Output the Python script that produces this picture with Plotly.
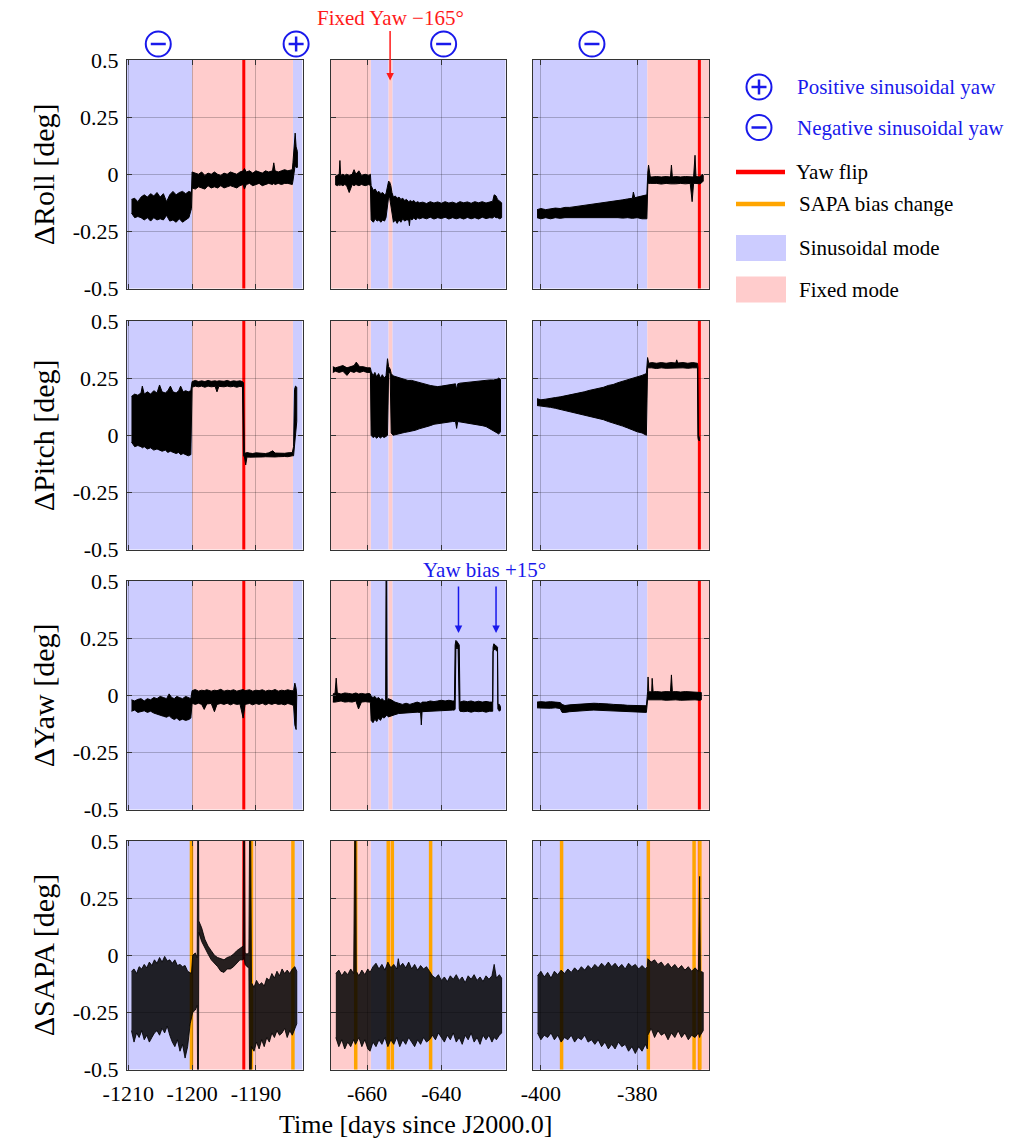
import plotly.graph_objects as go
from plotly.subplots import make_subplots

W, H = 1028, 1138
FONT = "Liberation Serif"
BLUE_TXT = "rgb(25,25,235)"
SIN_FILL = "#ccccff"
FIX_FILL = "#ffcccc"
RED = "#ff0000"
ORANGE = "#ffa500"

# ---------------- axes / categories ----------------
col_ranges = [[-1210.2, -1182.7], [-669.7, -622.7], [-401.7, -365.1]]
col_tickvals = [[-1210, -1200, -1190], [-660, -640], [-400, -380]]
col_ticktext = [["-1210", "-1200", "-1190"], ["-660", "-640"], ["-400", "-380"]]
y_tickvals = [0.5, 0.25, 0, -0.25, -0.5]
y_ticktext = ["0.5", "0.25", "0", "-0.25", "-0.5"]
row_titles = ["ΔRoll [deg]", "ΔPitch [deg]", "ΔYaw [deg]", "ΔSAPA [deg]"]
x_title = "Time [days since J2000.0]"

# ---------------- mode intervals / events ----------------
sin_intervals = [[(-1210.2, -1200.0), (-1184.2, -1182.7)],
                 [(-659.0, -654.2), (-653.2, -622.7)],
                 [(-401.7, -377.9)]]
fixed_intervals = [[(-1200.0, -1184.2)],
                   [(-669.7, -659.0), (-654.2, -653.2)],
                   [(-377.9, -365.1)]]
yaw_flip_times = [[-1191.9], [], [-367.1]]
sapa_bias_times = [[-1200.1, -1190.7, -1184.2],
                   [-663.05, -654.3, -653.2, -642.9],
                   [-395.7, -377.7, -368.2, -367.0]]
mode_sign_col = [0, 0, 1, 2]
mode_sign_time = [-1205.3, -1183.7, -639.4, -389.4]
mode_sign_kind = ["-", "+", "-", "-"]
yaw_bias_arrow_times = [-635.4, -625.3]

# ---------------- data: (time, upper envelope, lower envelope) ----------------
roll_c1 = [
    (-1209.5, -0.11, -0.17), (-1209.0, -0.105, -0.19), (-1208.5, -0.12, -0.185),
    (-1208.0, -0.10, -0.19), (-1207.5, -0.09, -0.20), (-1207.0, -0.10, -0.19),
    (-1206.5, -0.085, -0.205), (-1206.0, -0.095, -0.19), (-1205.5, -0.08, -0.20),
    (-1205.0, -0.10, -0.195), (-1204.5, -0.085, -0.20), (-1204.0, -0.12, -0.18),
    (-1203.5, -0.09, -0.205), (-1203.0, -0.075, -0.20), (-1202.5, -0.09, -0.21),
    (-1202.0, -0.08, -0.195), (-1201.5, -0.075, -0.21), (-1201.0, -0.085, -0.20),
    (-1200.5, -0.075, -0.19), (-1200.1, -0.08, -0.15),
    (-1200.0, 0.01, -0.06), (-1199.5, 0.005, -0.065), (-1199.0, 0.0, -0.055),
    (-1198.5, 0.01, -0.06), (-1198.0, -0.005, -0.065), (-1197.5, 0.005, -0.05),
    (-1197.0, 0.0, -0.06), (-1196.5, 0.01, -0.055), (-1196.0, 0.0, -0.06),
    (-1195.5, -0.005, -0.05), (-1195.0, 0.005, -0.06), (-1194.5, 0.0, -0.055),
    (-1194.0, 0.01, -0.05), (-1193.5, 0.005, -0.055), (-1193.0, 0.0, -0.06),
    (-1192.5, 0.01, -0.05), (-1192.0, 0.015, -0.045), (-1191.8, 0.025, -0.065),
    (-1191.5, 0.01, -0.045), (-1191.0, 0.015, -0.04), (-1190.5, 0.005, -0.05),
    (-1190.0, 0.015, -0.045), (-1189.5, 0.01, -0.04), (-1189.0, 0.005, -0.05),
    (-1188.5, 0.015, -0.045), (-1188.0, 0.01, -0.04), (-1187.4, 0.015, -0.045),
    (-1187.2, 0.05, -0.04), (-1187.0, 0.015, -0.045), (-1186.5, 0.01, -0.04),
    (-1186.0, 0.015, -0.045), (-1185.5, 0.02, -0.04), (-1185.0, 0.015, -0.04),
    (-1184.3, 0.02, -0.045), (-1184.2, 0.05, -0.03), (-1184.0, 0.12, 0.0),
    (-1183.85, 0.18, 0.04), (-1183.7, 0.12, 0.03), (-1183.5, 0.10, 0.03),
]
roll_c2 = [
    (-668.6, -0.01, -0.045), (-668.0, -0.005, -0.05), (-667.5, 0.0, -0.045),
    (-667.3, 0.06, -0.05), (-667.1, -0.005, -0.045), (-666.5, 0.0, -0.05),
    (-666.0, -0.005, -0.045), (-665.5, 0.0, -0.05), (-664.8, -0.005, -0.08),
    (-664.0, 0.0, -0.045), (-663.5, 0.02, -0.05), (-663.0, 0.0, -0.045),
    (-662.2, 0.015, -0.05), (-661.5, -0.005, -0.045), (-660.5, 0.0, -0.05),
    (-659.5, -0.005, -0.045), (-659.1, 0.0, -0.05),
    (-658.9, -0.05, -0.20), (-658.3, -0.07, -0.21), (-657.8, -0.065, -0.195),
    (-657.3, -0.08, -0.205), (-656.8, -0.075, -0.20), (-656.3, -0.085, -0.21),
    (-655.8, -0.08, -0.20), (-655.3, -0.09, -0.205), (-654.9, -0.085, -0.19),
    (-654.5, -0.05, -0.13), (-654.2, -0.03, -0.10), (-653.9, -0.035, -0.105),
    (-653.6, -0.05, -0.12), (-653.3, -0.08, -0.16), (-652.9, -0.10, -0.21),
    (-652.4, -0.095, -0.20), (-651.9, -0.105, -0.215), (-651.4, -0.10, -0.20),
    (-650.9, -0.11, -0.21), (-650.4, -0.105, -0.195), (-649.9, -0.115, -0.205),
    (-649.4, -0.11, -0.20), (-648.8, -0.12, -0.20), (-648.6, -0.118, -0.225),
    (-648.4, -0.115, -0.195), (-647.9, -0.12, -0.20), (-647.4, -0.115, -0.19),
    (-646.9, -0.125, -0.20), (-646.4, -0.12, -0.19), (-645.9, -0.125, -0.195),
    (-645.0, -0.122, -0.19), (-644.0, -0.128, -0.195), (-643.0, -0.12, -0.188),
    (-642.0, -0.126, -0.196), (-641.0, -0.121, -0.19), (-640.0, -0.127, -0.194),
    (-639.0, -0.12, -0.188), (-638.0, -0.126, -0.196), (-637.0, -0.122, -0.19),
    (-636.0, -0.128, -0.195), (-635.0, -0.12, -0.19), (-634.0, -0.125, -0.196),
    (-633.0, -0.121, -0.189), (-632.0, -0.127, -0.195), (-631.0, -0.12, -0.19),
    (-630.0, -0.125, -0.196), (-629.0, -0.12, -0.188), (-628.0, -0.126, -0.194),
    (-627.0, -0.12, -0.19), (-626.2, -0.118, -0.192), (-625.8, -0.09, -0.185),
    (-625.3, -0.095, -0.19), (-624.9, -0.11, -0.19), (-624.3, -0.12, -0.195),
    (-623.8, -0.125, -0.19),
]
roll_c3 = [
    (-400.8, -0.155, -0.19), (-400.0, -0.15, -0.195), (-399.0, -0.155, -0.19),
    (-398.0, -0.15, -0.195), (-397.0, -0.148, -0.19), (-396.0, -0.15, -0.193),
    (-395.0, -0.145, -0.19), (-394.0, -0.145, -0.188), (-393.0, -0.142, -0.19),
    (-392.0, -0.14, -0.188), (-391.0, -0.138, -0.19), (-390.0, -0.135, -0.187),
    (-389.0, -0.133, -0.19), (-388.0, -0.13, -0.187), (-387.0, -0.127, -0.19),
    (-386.0, -0.123, -0.188), (-385.0, -0.12, -0.19), (-384.0, -0.115, -0.19),
    (-383.0, -0.112, -0.192), (-382.0, -0.108, -0.19), (-381.0, -0.105, -0.193),
    (-380.8, -0.078, -0.19), (-380.5, -0.103, -0.192), (-380.0, -0.10, -0.19),
    (-379.0, -0.095, -0.195), (-378.0, -0.09, -0.195),
    (-377.8, 0.01, -0.04), (-377.65, 0.04, -0.04), (-377.3, -0.01, -0.04),
    (-377.0, -0.012, -0.042), (-376.0, -0.01, -0.04), (-375.0, -0.012, -0.043),
    (-374.0, -0.01, -0.04), (-373.1, -0.012, -0.042), (-372.9, 0.04, -0.042),
    (-372.7, -0.012, -0.04), (-372.0, -0.01, -0.042), (-371.0, -0.012, -0.04),
    (-370.0, -0.01, -0.042), (-369.0, -0.012, -0.04), (-368.6, -0.012, -0.12),
    (-368.3, -0.012, -0.04), (-368.0, 0.083, -0.04), (-367.8, -0.01, -0.04),
    (-367.0, -0.012, -0.042), (-366.5, 0.0, -0.035), (-366.3, -0.005, -0.03),
]
pitch_c1 = [
    (-1209.5, 0.17, -0.03), (-1209.0, 0.18, -0.05), (-1208.5, 0.175, -0.045),
    (-1208.0, 0.185, -0.05), (-1207.8, 0.215, -0.055), (-1207.5, 0.18, -0.05),
    (-1207.0, 0.19, -0.06), (-1206.5, 0.18, -0.055), (-1206.0, 0.195, -0.065),
    (-1205.5, 0.185, -0.06), (-1205.1, 0.22, -0.065), (-1204.7, 0.19, -0.07),
    (-1204.2, 0.185, -0.065), (-1203.8, 0.195, -0.075), (-1203.4, 0.215, -0.07),
    (-1203.0, 0.19, -0.075), (-1202.5, 0.185, -0.08), (-1202.1, 0.195, -0.075),
    (-1201.8, 0.215, -0.085), (-1201.4, 0.19, -0.08), (-1201.0, 0.195, -0.085),
    (-1200.6, 0.19, -0.09), (-1200.2, 0.195, -0.085),
    (-1200.0, 0.235, 0.21), (-1199.5, 0.24, 0.215), (-1199.0, 0.235, 0.212),
    (-1198.5, 0.238, 0.215), (-1198.0, 0.235, 0.21), (-1197.5, 0.24, 0.215),
    (-1197.0, 0.236, 0.212), (-1196.4, 0.238, 0.214), (-1196.1, 0.236, 0.19),
    (-1195.8, 0.238, 0.214), (-1195.0, 0.236, 0.212), (-1194.5, 0.24, 0.215),
    (-1194.0, 0.235, 0.212), (-1193.5, 0.238, 0.214), (-1193.0, 0.236, 0.21),
    (-1192.5, 0.238, 0.214), (-1192.1, 0.235, 0.212), (-1191.95, 0.23, -0.09),
    (-1191.8, -0.075, -0.095), (-1191.6, -0.078, -0.13), (-1191.4, -0.076, -0.095),
    (-1191.0, -0.078, -0.096), (-1190.5, -0.08, -0.095), (-1190.0, -0.077, -0.094),
    (-1189.5, -0.079, -0.096), (-1189.0, -0.078, -0.095), (-1188.5, -0.08, -0.094),
    (-1188.0, -0.077, -0.095), (-1187.35, -0.068, -0.094), (-1187.0, -0.078, -0.095),
    (-1186.5, -0.079, -0.094), (-1186.0, -0.077, -0.095), (-1185.5, -0.079, -0.093),
    (-1185.0, -0.077, -0.094), (-1184.6, -0.078, -0.092), (-1184.3, -0.076, -0.09),
    (-1184.1, -0.05, -0.09), (-1183.95, 0.20, -0.06), (-1183.8, 0.215, 0.0),
    (-1183.6, 0.21, 0.06),
]
pitch_c2 = [
    (-669.2, 0.30, 0.275), (-668.5, 0.295, 0.28), (-667.5, 0.30, 0.275),
    (-666.5, 0.305, 0.28), (-665.4, 0.295, 0.262), (-664.5, 0.30, 0.28),
    (-663.5, 0.305, 0.275), (-662.9, 0.32, 0.28), (-662.0, 0.30, 0.275),
    (-661.0, 0.30, 0.28), (-660.0, 0.295, 0.275), (-659.1, 0.295, 0.275),
    (-658.9, 0.28, 0.0), (-658.4, 0.26, -0.01), (-657.9, 0.275, -0.005),
    (-657.4, 0.255, -0.013), (-656.9, 0.27, -0.005), (-656.4, 0.25, -0.012),
    (-655.9, 0.265, -0.005), (-655.4, 0.25, -0.01), (-654.9, 0.26, -0.005),
    (-654.5, 0.335, 0.0), (-654.2, 0.30, 0.27), (-653.8, 0.29, 0.275),
    (-653.5, 0.27, 0.01), (-653.0, 0.26, 0.0), (-652.0, 0.255, 0.005),
    (-651.0, 0.25, 0.008), (-650.0, 0.245, 0.012), (-649.0, 0.24, 0.015),
    (-648.0, 0.24, 0.02), (-647.0, 0.235, 0.022), (-646.0, 0.23, 0.028),
    (-645.0, 0.225, 0.032), (-644.0, 0.22, 0.038), (-643.0, 0.218, 0.042),
    (-642.0, 0.215, 0.048), (-641.0, 0.213, 0.05), (-640.0, 0.215, 0.053),
    (-639.0, 0.218, 0.055), (-638.0, 0.22, 0.058), (-637.0, 0.222, 0.06),
    (-636.2, 0.225, 0.06), (-635.9, 0.20, 0.03), (-635.6, 0.225, 0.06),
    (-635.0, 0.228, 0.058), (-634.0, 0.23, 0.055), (-633.0, 0.232, 0.052),
    (-632.0, 0.235, 0.05), (-631.0, 0.235, 0.048), (-630.0, 0.238, 0.045),
    (-629.0, 0.24, 0.042), (-628.0, 0.24, 0.038), (-627.0, 0.242, 0.03),
    (-626.0, 0.242, 0.02), (-625.0, 0.245, 0.01), (-624.6, 0.25, 0.005),
    (-624.1, 0.245, 0.015),
]
pitch_c3 = [
    (-400.8, 0.16, 0.13), (-400.0, 0.155, 0.13), (-399.0, 0.158, 0.125),
    (-398.0, 0.16, 0.122), (-397.0, 0.165, 0.118), (-396.0, 0.168, 0.115),
    (-395.0, 0.172, 0.11), (-394.0, 0.176, 0.106), (-393.0, 0.18, 0.10),
    (-392.0, 0.186, 0.095), (-391.0, 0.19, 0.09), (-390.0, 0.196, 0.085),
    (-389.0, 0.20, 0.08), (-388.0, 0.206, 0.073), (-387.0, 0.21, 0.068),
    (-386.0, 0.218, 0.06), (-385.0, 0.222, 0.053), (-384.0, 0.23, 0.046),
    (-383.0, 0.236, 0.04), (-382.0, 0.242, 0.032), (-381.0, 0.25, 0.025),
    (-380.0, 0.256, 0.015), (-379.0, 0.262, 0.01), (-378.1, 0.27, 0.0),
    (-377.85, 0.34, 0.295), (-377.6, 0.315, 0.293), (-377.0, 0.318, 0.295),
    (-376.0, 0.315, 0.292), (-375.0, 0.318, 0.295), (-374.0, 0.315, 0.293),
    (-373.0, 0.318, 0.295), (-372.0, 0.316, 0.294), (-371.8, 0.33, 0.294),
    (-371.6, 0.316, 0.294), (-370.5, 0.318, 0.295), (-369.5, 0.315, 0.293),
    (-368.5, 0.318, 0.295), (-367.5, 0.315, 0.295), (-367.4, 0.30, -0.01),
    (-367.3, 0.0, -0.02), (-367.1, -0.01, -0.025),
]
yaw_c1 = [
    (-1209.5, -0.02, -0.07), (-1209.0, -0.025, -0.065), (-1208.5, -0.018, -0.075),
    (-1208.0, -0.015, -0.07), (-1207.5, -0.025, -0.068), (-1207.0, -0.015, -0.075),
    (-1206.5, -0.02, -0.07), (-1206.0, -0.01, -0.078), (-1205.5, -0.015, -0.082),
    (-1205.0, -0.005, -0.088), (-1204.5, -0.01, -0.092), (-1204.0, -0.015, -0.096),
    (-1203.6, 0.006, -0.09), (-1203.2, -0.01, -0.10), (-1202.8, -0.015, -0.106),
    (-1202.4, -0.005, -0.10), (-1202.0, -0.01, -0.11), (-1201.5, -0.015, -0.105),
    (-1201.0, -0.005, -0.11), (-1200.5, -0.01, -0.106), (-1200.2, -0.015, -0.10),
    (-1200.0, 0.02, -0.035), (-1199.5, 0.025, -0.04), (-1199.0, 0.018, -0.035),
    (-1198.5, 0.022, -0.04), (-1198.1, 0.02, -0.062), (-1197.7, 0.024, -0.038),
    (-1197.0, 0.018, -0.036), (-1196.5, 0.022, -0.072), (-1196.1, 0.02, -0.04),
    (-1195.5, 0.026, -0.036), (-1195.0, 0.018, -0.04), (-1194.5, 0.022, -0.035),
    (-1194.0, 0.02, -0.042), (-1193.5, 0.024, -0.036), (-1193.0, 0.018, -0.04),
    (-1192.5, 0.022, -0.038), (-1192.0, 0.025, -0.10), (-1191.7, 0.02, -0.04),
    (-1191.0, 0.024, -0.036), (-1190.5, 0.018, -0.042), (-1190.0, 0.022, -0.036),
    (-1189.5, 0.02, -0.04), (-1189.0, 0.024, -0.035), (-1188.5, 0.018, -0.042),
    (-1188.0, 0.022, -0.036), (-1187.5, 0.02, -0.04), (-1187.0, 0.025, -0.035),
    (-1186.5, 0.018, -0.04), (-1186.0, 0.022, -0.038), (-1185.5, 0.02, -0.042),
    (-1185.0, 0.024, -0.036), (-1184.5, 0.02, -0.04), (-1184.1, 0.02, -0.045),
    (-1183.9, 0.053, -0.13), (-1183.7, 0.03, -0.15), (-1183.6, 0.0, -0.14),
]
yaw_c2 = [
    (-669.2, 0.005, -0.03), (-668.6, 0.01, -0.03), (-668.3, 0.075, -0.03),
    (-668.0, 0.01, -0.03), (-667.0, 0.005, -0.025), (-666.0, 0.01, -0.03),
    (-665.0, 0.008, -0.028), (-664.0, 0.005, -0.03), (-663.0, 0.01, -0.025),
    (-662.3, 0.005, -0.06), (-661.5, 0.008, -0.03), (-660.5, 0.005, -0.028),
    (-659.5, 0.008, -0.03), (-659.1, 0.005, -0.03),
    (-658.9, -0.005, -0.11), (-658.4, -0.01, -0.12), (-657.9, -0.005, -0.105),
    (-657.4, -0.015, -0.115), (-656.9, -0.01, -0.10), (-656.4, -0.02, -0.11),
    (-655.9, -0.015, -0.095), (-655.4, -0.025, -0.10), (-655.0, -0.02, -0.09),
    (-654.8, 1.0, -0.09), (-654.6, -0.03, -0.085), (-654.3, -0.015, -0.095),
    (-653.5, -0.02, -0.09), (-652.5, -0.03, -0.085), (-651.5, -0.035, -0.08),
    (-650.5, -0.04, -0.08), (-649.5, -0.035, -0.078), (-648.5, -0.04, -0.076),
    (-647.5, -0.035, -0.075), (-646.5, -0.03, -0.074), (-645.6, -0.035, -0.075),
    (-645.4, -0.035, -0.13), (-645.2, -0.03, -0.072), (-644.0, -0.03, -0.07),
    (-643.0, -0.025, -0.07), (-642.0, -0.028, -0.068), (-641.0, -0.025, -0.068),
    (-640.0, -0.022, -0.066), (-639.0, -0.025, -0.065), (-638.0, -0.022, -0.066),
    (-637.0, -0.025, -0.065), (-636.5, -0.025, -0.065), (-636.3, 0.22, -0.06),
    (-636.1, 0.24, 0.20), (-635.8, 0.235, 0.21), (-635.5, 0.225, 0.20),
    (-635.2, 0.22, -0.06), (-635.0, -0.03, -0.07), (-634.0, -0.025, -0.072),
    (-633.0, -0.028, -0.07), (-632.0, -0.025, -0.074), (-631.0, -0.03, -0.07),
    (-630.0, -0.026, -0.072), (-629.0, -0.03, -0.07), (-628.0, -0.027, -0.074),
    (-627.0, -0.03, -0.07), (-626.2, -0.03, -0.07), (-626.1, 0.21, 0.19),
    (-625.9, 0.225, 0.20), (-625.5, 0.22, 0.20), (-625.1, 0.215, 0.195),
    (-624.9, 0.21, 0.19), (-624.8, -0.04, -0.06), (-624.4, -0.04, -0.07),
    (-624.1, -0.05, -0.065),
]
yaw_c3 = [
    (-400.8, -0.03, -0.055), (-400.0, -0.028, -0.056), (-399.0, -0.03, -0.055),
    (-398.0, -0.028, -0.057), (-397.0, -0.03, -0.055), (-396.0, -0.032, -0.058),
    (-395.6, -0.04, -0.075), (-395.0, -0.045, -0.075), (-394.0, -0.042, -0.072),
    (-393.0, -0.04, -0.07), (-392.0, -0.04, -0.068), (-391.0, -0.038, -0.067),
    (-390.0, -0.036, -0.066), (-389.0, -0.035, -0.065), (-388.0, -0.036, -0.064),
    (-387.0, -0.036, -0.065), (-386.0, -0.038, -0.066), (-385.0, -0.04, -0.067),
    (-384.0, -0.04, -0.068), (-383.0, -0.042, -0.07), (-382.0, -0.044, -0.07),
    (-381.0, -0.045, -0.072), (-380.0, -0.046, -0.073), (-379.0, -0.047, -0.074),
    (-378.1, -0.046, -0.075),
    (-377.85, 0.015, -0.02), (-377.75, 0.08, -0.02), (-377.6, 0.015, -0.02),
    (-377.0, 0.015, -0.022), (-376.9, 0.074, -0.02), (-376.7, 0.015, -0.02),
    (-376.0, 0.016, -0.021), (-375.0, 0.014, -0.02), (-374.0, 0.016, -0.022),
    (-373.1, 0.015, -0.02), (-372.9, 0.089, -0.02), (-372.7, 0.015, -0.021),
    (-372.0, 0.016, -0.02), (-371.0, 0.014, -0.022), (-370.0, 0.016, -0.02),
    (-369.0, 0.015, -0.021), (-368.0, 0.016, -0.02), (-367.0, 0.014, -0.022),
    (-366.7, 0.012, -0.02),
]
sapa_c1 = [
    (-1209.5, -0.07, -0.33), (-1209.1, -0.06, -0.38), (-1208.7, -0.08, -0.34),
    (-1208.3, -0.05, -0.36), (-1207.9, -0.06, -0.33), (-1207.5, -0.04, -0.37),
    (-1207.1, -0.055, -0.35), (-1206.7, -0.03, -0.38), (-1206.3, -0.045, -0.36),
    (-1205.9, -0.02, -0.34), (-1205.5, -0.035, -0.33), (-1205.1, -0.01, -0.35),
    (-1204.7, -0.03, -0.32), (-1204.3, -0.005, -0.34), (-1203.9, -0.025, -0.31),
    (-1203.5, -0.02, -0.35), (-1203.1, -0.035, -0.38), (-1202.7, -0.02, -0.40),
    (-1202.3, -0.045, -0.37), (-1201.9, -0.04, -0.42), (-1201.5, -0.05, -0.39),
    (-1201.1, -0.045, -0.45), (-1200.7, -0.07, -0.40), (-1200.3, -0.075, -0.30),
    (-1200.1, -0.08, -0.28), (-1199.9, 0.0, -0.25), (-1199.5, 0.01, -0.24),
    (-1199.2, -0.01, -0.22), (-1199.05, 1.0, -1.0), (-1198.95, 0.15, 0.10),
    (-1198.5, 0.12, 0.06), (-1198.0, 0.07, 0.03), (-1197.5, 0.04, 0.005),
    (-1197.0, 0.02, -0.02), (-1196.5, 0.0, -0.035), (-1196.0, -0.01, -0.05),
    (-1195.5, -0.015, -0.07), (-1195.0, -0.02, -0.075), (-1194.5, -0.01, -0.06),
    (-1194.0, -0.005, -0.06), (-1193.5, 0.005, -0.05), (-1193.0, 0.02, -0.035),
    (-1192.5, 0.03, -0.02), (-1192.0, 0.04, -0.02), (-1191.85, 1.0, -0.01),
    (-1191.7, 0.01, -0.04), (-1191.4, 0.005, -0.05), (-1191.1, 0.01, -0.055),
    (-1190.9, 1.0, -1.0), (-1190.7, -0.12, -0.40), (-1190.3, -0.14, -0.42),
    (-1189.9, -0.11, -0.38), (-1189.5, -0.13, -0.41), (-1189.1, -0.12, -0.37),
    (-1188.7, -0.135, -0.40), (-1188.3, -0.10, -0.36), (-1187.9, -0.11, -0.38),
    (-1187.5, -0.08, -0.34), (-1187.1, -0.10, -0.36), (-1186.7, -0.07, -0.33),
    (-1186.3, -0.09, -0.35), (-1185.9, -0.06, -0.34), (-1185.5, -0.08, -0.32),
    (-1185.1, -0.065, -0.36), (-1184.7, -0.08, -0.33), (-1184.3, -0.06, -0.35),
    (-1183.9, -0.05, -0.32), (-1183.6, -0.07, -0.30),
]
sapa_c2 = [
    (-668.4, -0.08, -0.36), (-667.6, -0.065, -0.40), (-666.8, -0.09, -0.37),
    (-666.0, -0.07, -0.41), (-665.2, -0.085, -0.38), (-664.4, -0.06, -0.40),
    (-663.6, -0.08, -0.37), (-663.1, 1.0, -0.39), (-662.9, -0.07, -0.39),
    (-662.2, -0.09, -0.36), (-661.4, -0.065, -0.40), (-660.6, -0.085, -0.37),
    (-659.8, -0.06, -0.41), (-659.2, -0.075, -0.42), (-658.4, -0.05, -0.38),
    (-657.6, -0.035, -0.40), (-656.8, -0.06, -0.37), (-656.0, -0.04, -0.39),
    (-655.2, -0.065, -0.36), (-654.4, -0.03, -0.40), (-653.6, -0.055, -0.37),
    (-652.8, -0.04, -0.39), (-652.0, -0.06, -0.36), (-651.6, -0.015, -0.38),
    (-651.2, -0.05, -0.40), (-650.4, -0.035, -0.37), (-649.6, -0.055, -0.39),
    (-648.8, -0.03, -0.36), (-648.0, -0.06, -0.38), (-647.2, -0.04, -0.40),
    (-646.4, -0.065, -0.37), (-645.6, -0.045, -0.39), (-644.8, -0.06, -0.36),
    (-644.0, -0.05, -0.38), (-643.2, -0.07, -0.37), (-642.4, -0.09, -0.35),
    (-641.6, -0.10, -0.37), (-640.8, -0.085, -0.34), (-640.0, -0.11, -0.36),
    (-639.2, -0.095, -0.38), (-638.4, -0.115, -0.35), (-637.6, -0.09, -0.37),
    (-636.8, -0.105, -0.34), (-636.0, -0.085, -0.38), (-635.2, -0.11, -0.36),
    (-634.4, -0.095, -0.39), (-633.6, -0.12, -0.35), (-632.8, -0.09, -0.37),
    (-632.0, -0.105, -0.34), (-631.2, -0.085, -0.38), (-630.4, -0.11, -0.36),
    (-629.6, -0.095, -0.39), (-628.8, -0.115, -0.35), (-628.0, -0.09, -0.37),
    (-627.2, -0.105, -0.35), (-626.4, -0.09, -0.38), (-625.8, -0.04, -0.36),
    (-625.2, -0.10, -0.37), (-624.4, -0.085, -0.35), (-623.8, -0.10, -0.34),
]
sapa_c3 = [
    (-400.7, -0.09, -0.34), (-400.0, -0.07, -0.37), (-399.3, -0.095, -0.35),
    (-398.6, -0.075, -0.36), (-397.9, -0.10, -0.34), (-397.2, -0.07, -0.37),
    (-396.5, -0.085, -0.35), (-395.8, -0.065, -0.38), (-395.1, -0.08, -0.36),
    (-394.4, -0.06, -0.37), (-393.7, -0.075, -0.35), (-393.0, -0.055, -0.38),
    (-392.3, -0.07, -0.36), (-391.6, -0.05, -0.37), (-390.9, -0.065, -0.35),
    (-390.2, -0.045, -0.38), (-389.5, -0.06, -0.37), (-388.8, -0.04, -0.39),
    (-388.1, -0.055, -0.37), (-387.4, -0.035, -0.40), (-386.7, -0.05, -0.38),
    (-386.0, -0.03, -0.41), (-385.3, -0.05, -0.39), (-384.6, -0.035, -0.41),
    (-383.9, -0.055, -0.38), (-383.2, -0.04, -0.40), (-382.5, -0.06, -0.39),
    (-381.8, -0.035, -0.42), (-381.1, -0.05, -0.40), (-380.4, -0.04, -0.43),
    (-379.7, -0.06, -0.40), (-379.0, -0.045, -0.42), (-378.3, -0.06, -0.39),
    (-377.9, -0.05, -0.41),
    (-377.8, -0.015, -0.35), (-377.1, -0.03, -0.32), (-376.4, -0.02, -0.36),
    (-375.7, -0.04, -0.33), (-375.0, -0.03, -0.35), (-374.3, -0.05, -0.34),
    (-373.6, -0.035, -0.37), (-372.9, -0.055, -0.34), (-372.2, -0.04, -0.36),
    (-371.5, -0.06, -0.33), (-370.8, -0.045, -0.36), (-370.1, -0.065, -0.34),
    (-369.4, -0.05, -0.37), (-368.7, -0.07, -0.35), (-368.0, -0.055, -0.36),
    (-367.3, -0.07, -0.34), (-367.05, 0.345, -0.36), (-366.9, -0.07, -0.35),
    (-366.3, -0.075, -0.33),
]

panels = [[roll_c1, roll_c2, roll_c3],
          [pitch_c1, pitch_c2, pitch_c3],
          [yaw_c1, yaw_c2, yaw_c3],
          [sapa_c1, sapa_c2, sapa_c3]]

# ---------------- layout geometry (pixels) ----------------
col_px = [(127, 302.5), (331, 505.7), (532.7, 709)]
row_px = [(60, 288.5), (321, 549.5), (581, 809.5), (841, 1069.5)]


def px(x):
    return x / W


def py(y):
    return 1 - y / H


def time_to_paper(c, t):
    """Place a time on the page using the column's axis domain and range."""
    d0, d1 = px(col_px[c][0]), px(col_px[c][1])
    r0, r1 = col_ranges[c]
    return d0 + (t - r0) / (r1 - r0) * (d1 - d0)


fig = make_subplots(rows=4, cols=3)

for r in range(4):
    for c in range(3):
        idx = r * 3 + c + 1
        data = panels[r][c]
        t = [d[0] for d in data]
        hi = [d[1] for d in data]
        lo = [d[2] for d in data]
        col = "rgba(0,0,0,0.85)" if r == 3 else "black"
        fig.add_trace(go.Scatter(
            x=t + t[::-1], y=hi + lo[::-1], mode="lines", fill="toself",
            fillcolor=col, line=dict(color=col, width=1), hoverinfo="skip",
            showlegend=False), row=r + 1, col=c + 1)

        sfx = "" if idx == 1 else str(idx)
        xr, yr = "x" + sfx, "y" + sfx
        fig.layout["xaxis" + sfx].update(
            domain=[px(col_px[c][0]), px(col_px[c][1])], range=col_ranges[c],
            tickmode="array", tickvals=col_tickvals[c], ticktext=col_ticktext[c],
            showticklabels=(r == 3), ticks="inside", ticklen=5, tickcolor="#333",
            mirror="allticks", showline=True, linecolor="#333", linewidth=1,
            showgrid=True, gridcolor="rgba(0,0,0,0.22)", gridwidth=1, zeroline=False,
            automargin=False, ticklabelstandoff=4,
            tickfont=dict(family=FONT, size=22, color="black"))
        fig.layout["yaxis" + sfx].update(
            domain=[py(row_px[r][1]), py(row_px[r][0])], range=[-0.5, 0.5],
            tickmode="array", tickvals=y_tickvals, ticktext=y_ticktext,
            showticklabels=(c == 0), ticks="inside", ticklen=5, tickcolor="#333",
            mirror="allticks", showline=True, linecolor="#333", linewidth=1,
            showgrid=True, gridcolor="rgba(0,0,0,0.22)", gridwidth=1, zeroline=False,
            automargin=False, ticklabelstandoff=3,
            tickfont=dict(family=FONT, size=22, color="black"))

        for a, b in sin_intervals[c]:
            fig.add_shape(type="rect", xref=xr, yref=yr + " domain", x0=a, x1=b, y0=0, y1=1,
                          fillcolor=SIN_FILL, line=dict(width=0), layer="below")
        for a, b in fixed_intervals[c]:
            fig.add_shape(type="rect", xref=xr, yref=yr + " domain", x0=a, x1=b, y0=0, y1=1,
                          fillcolor=FIX_FILL, line=dict(width=0), layer="below")
        for tf in yaw_flip_times[c]:
            fig.add_shape(type="line", xref=xr, yref=yr + " domain", x0=tf, x1=tf, y0=0, y1=1,
                          line=dict(color=RED, width=3), layer="below")
        if r == 3:
            for tb in sapa_bias_times[c]:
                fig.add_shape(type="line", xref=xr, yref=yr + " domain", x0=tb, x1=tb, y0=0, y1=1,
                              line=dict(color=ORANGE, width=3.5), layer="below")


# ---------------- circled +/- symbols ----------------
def add_sign(kind, xanchor, yanchor):
    common = dict(xref="paper", yref="paper", xsizemode="pixel", ysizemode="pixel",
                  xanchor=xanchor, yanchor=yanchor)
    fig.add_shape(type="circle", x0=-12.5, x1=12.5, y0=-12.5, y1=12.5,
                  line=dict(color=BLUE_TXT, width=2), **common)
    fig.add_shape(type="line", x0=-7.5, x1=7.5, y0=0, y1=0,
                  line=dict(color=BLUE_TXT, width=2.5), **common)
    if kind == "+":
        fig.add_shape(type="line", x0=0, x1=0, y0=-7.5, y1=7.5,
                      line=dict(color=BLUE_TXT, width=2.5), **common)


for cidx, tm, kind in zip(mode_sign_col, mode_sign_time, mode_sign_kind):
    add_sign(kind, time_to_paper(cidx, tm), py(44))

# ---------------- annotations ----------------
ann = []
for r, title in enumerate(row_titles):
    ann.append(dict(text=title, x=px(43), y=py((row_px[r][0] + row_px[r][1]) / 2),
                    xref="paper", yref="paper", xanchor="center", yanchor="middle",
                    showarrow=False, textangle=-90,
                    font=dict(family=FONT, size=30, color="black")))
ann.append(dict(text=x_title, x=px(415), y=py(1124), xref="paper", yref="paper",
                xanchor="center", yanchor="middle",
                showarrow=False, font=dict(family=FONT, size=26, color="black")))

# Fixed yaw arrow (row 1, col 2)
ann.append(dict(text="Fixed Yaw −165°", x=-653.8, y=0.41, xref="x2", yref="y2",
                ax=0, ay=-63, showarrow=True, arrowhead=2, arrowsize=1, arrowwidth=1.5,
                arrowcolor="#ff1a1a", font=dict(family=FONT, size=21, color="#ff1a1a")))
# Yaw bias arrows (row 3, col 2)
ann.append(dict(text="Yaw bias +15°", x=time_to_paper(1, -628.3), y=py(570),
                xref="paper", yref="paper", xanchor="center", yanchor="middle",
                showarrow=False, font=dict(family=FONT, size=21, color=BLUE_TXT)))
for tb in yaw_bias_arrow_times:
    ann.append(dict(text="", x=tb, y=0.272, xref="x8", yref="y8", ax=0, ay=-48,
                    showarrow=True, arrowhead=2, arrowsize=1, arrowwidth=1.5,
                    arrowcolor=BLUE_TXT))

# ---------------- legend (manual) ----------------
legend_items = [
    ("sign+", "Positive sinusoidal yaw", 87, BLUE_TXT),
    ("sign-", "Negative sinusoidal yaw", 127.5, BLUE_TXT),
    ("line_red", "Yaw flip", 172, "black"),
    ("line_orange", "SAPA bias change", 204, "black"),
    ("rect_sin", "Sinusoidal mode", 248, "black"),
    ("rect_fix", "Fixed mode", 289.5, "black"),
]
for kind, label, yc, tcol in legend_items:
    if kind.startswith("sign"):
        add_sign(kind[-1], px(759), py(yc))
        tx = 795
    elif kind.startswith("line"):
        fig.add_shape(type="line", xref="paper", yref="paper", x0=px(736), x1=px(785),
                      y0=py(yc), y1=py(yc),
                      line=dict(color=RED if kind == "line_red" else ORANGE, width=4.5))
        tx = 794 if kind == "line_red" else 797
    else:
        fig.add_shape(type="rect", xref="paper", yref="paper", x0=px(736), x1=px(786),
                      y0=py(yc + 13), y1=py(yc - 13), line=dict(width=0),
                      fillcolor=SIN_FILL if kind == "rect_sin" else FIX_FILL)
        tx = 797
    ann.append(dict(text=label, x=px(tx), y=py(yc), xref="paper", yref="paper",
                    xanchor="left", yanchor="middle", showarrow=False,
                    font=dict(family=FONT, size=21, color=tcol)))

fig.update_layout(annotations=ann, width=W, height=H,
                  margin=dict(l=0, r=0, t=0, b=0),
                  paper_bgcolor="white", plot_bgcolor="white", showlegend=False)

fig.write_html("out.html")
